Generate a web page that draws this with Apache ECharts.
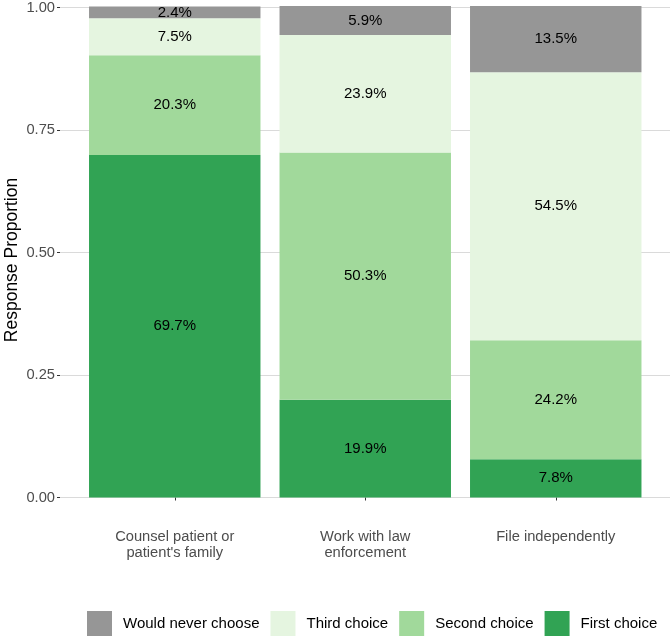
<!DOCTYPE html>
<html>
<head>
<meta charset="utf-8">
<script src="https://cdn.jsdelivr.net/npm/echarts@6/dist/echarts.min.js"></script>
<style>
  html, body { margin: 0; padding: 0; background: #fff; }
  #chart { width: 672px; height: 638px; }
</style>
</head>
<body>
<div id="chart"></div>
<script>
// ---- data ----
const categories = ["Counsel patient or\npatient's family", "Work with law\nenforcement", "File independently"];
const firstChoice  = [0.697, 0.199, 0.078];
const secondChoice = [0.203, 0.503, 0.242];
const thirdChoice  = [0.075, 0.239, 0.545];
const neverChoose  = [0.024, 0.059, 0.135];
const yTicks = [0, 0.25, 0.5, 0.75, 1];
const seriesNames = ["First choice", "Second choice", "Third choice", "Would never choose"];
const legendOrder = ["Would never choose", "Third choice", "Second choice", "First choice"];
const colors = { "First choice": "#31a354", "Second choice": "#a1d99b", "Third choice": "#e5f5e0", "Would never choose": "#969696" };

const FONT = "Liberation Sans, Arial, sans-serif";
const chart = echarts.init(document.getElementById('chart'), null, { renderer: 'canvas' });

const seriesData = [firstChoice, secondChoice, thirdChoice, neverChoose];
const series = seriesNames.map((name, i) => ({
  name: name,
  type: 'bar',
  stack: 'total',
  xAxisIndex: 1,
  yAxisIndex: 1,
  barWidth: '90%',
  data: seriesData[i],
  itemStyle: { color: colors[name] },
  label: {
    show: true,
    position: 'inside',
    color: '#000',
    fontFamily: FONT,
    fontSize: 15,
    formatter: p => (p.value * 100).toFixed(1) + '%'
  },
  emphasis: { disabled: true }
}));

const option = {
  animation: false,
  backgroundColor: '#fff',
  textStyle: { fontFamily: FONT },
  grid: [
    { left: 60, right: 2, top: 6, bottom: 140.5 },
    { left: 79.5, right: 21, top: 6, bottom: 140.5 }
  ],
  xAxis: [
    { type: 'value', gridIndex: 0, min: 0, max: 1, show: false },
    {
      type: 'category', gridIndex: 1, data: categories, offset: 24,
      axisLine: { show: false },
      axisTick: { show: true, alignWithLabel: true, length: 3, lineStyle: { color: '#333', width: 1 } },
      axisLabel: { color: '#4d4d4d', fontFamily: FONT, fontSize: 14.7, lineHeight: 16, margin: 7 }
    }
  ],
  yAxis: [
    {
      type: 'value', gridIndex: 0, min: yTicks[0], max: yTicks[yTicks.length - 1], interval: 0.25,
      axisLine: { show: false },
      axisTick: { show: true, length: 3, lineStyle: { color: '#333', width: 1 } },
      axisLabel: { color: '#4d4d4d', fontFamily: FONT, fontSize: 14.7, margin: 5, formatter: v => v.toFixed(2) },
      splitLine: { show: true, lineStyle: { color: '#dadada', width: 1 } }
    },
    { type: 'value', gridIndex: 1, min: 0, max: 1, show: false }
  ],
  legend: {
    data: legendOrder,
    left: 87, top: 611,
    padding: 0,
    itemWidth: 25, itemHeight: 25, itemGap: 11,
    icon: 'rect',
    selectedMode: false,
    textStyle: { color: '#000', fontFamily: FONT, fontSize: 15, padding: [0, 0, 0, 6] }
  },
  graphic: [{
    type: 'text',
    x: 12, y: 260,
    rotation: Math.PI / 2,
    style: { text: 'Response Proportion', fill: '#000', font: '17.5px ' + FONT, textAlign: 'center', textVerticalAlign: 'middle' }
  }],
  series: series
};
chart.setOption(option);
</script>
</body>
</html>
